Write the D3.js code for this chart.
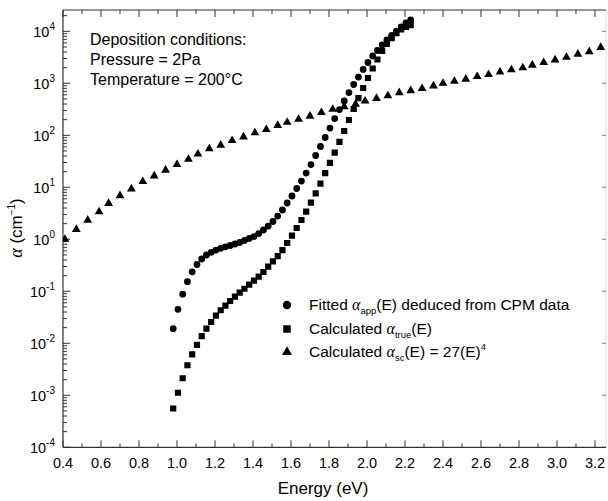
<!DOCTYPE html>
<html>
<head>
<meta charset="utf-8">
<script src="https://cdn.jsdelivr.net/npm/d3@7"></script>
<style>
  html, body { margin: 0; padding: 0; background: #fff; }
  svg { display: block; }
  text { font-family: "Liberation Sans", Arial, sans-serif; fill: #000; }
  .greek { font-family: "Liberation Serif", "Times New Roman", serif; font-style: italic; }
</style>
</head>
<body>
<svg id="chart" width="608" height="501"></svg>
<script>
// Photon energy (eV) for the fitted CPM curve and the calculated true absorption
const energyCPM = [0.98, 1.005, 1.03, 1.055, 1.08, 1.105, 1.13, 1.155, 1.18, 1.205,
  1.23, 1.255, 1.28, 1.305, 1.33, 1.355, 1.38, 1.405, 1.43, 1.455,
  1.48, 1.505, 1.53, 1.555, 1.58, 1.605, 1.63, 1.655, 1.68, 1.705,
  1.73, 1.755, 1.78, 1.805, 1.83, 1.855, 1.88, 1.905, 1.93, 1.955,
  1.98, 2.005, 2.03, 2.055, 2.08, 2.105, 2.13, 2.155, 2.18, 2.205, 2.23];

// Fitted apparent absorption coefficient alpha_app (cm^-1)
const alphaApp = [0.0191, 0.0451, 0.0879, 0.153, 0.237, 0.328, 0.418, 0.499, 0.562, 0.622,
  0.671, 0.718, 0.761, 0.813, 0.869, 0.949, 1.04, 1.13, 1.29, 1.51,
  1.80, 2.20, 2.80, 3.66, 4.99, 6.81, 9.49, 13.2, 18.8, 27.4,
  40.9, 60.9, 90.8, 138, 210, 313, 457, 665, 948, 1321,
  1849, 2514, 3350, 4276, 5456, 6808, 8305, 10130, 12100, 14450, 16500];

// Calculated true absorption coefficient alpha_true (cm^-1)
const alphaTrue = [0.000557, 0.00112, 0.00213, 0.00378, 0.00615, 0.00936, 0.0138, 0.0192, 0.0257, 0.0340,
  0.0432, 0.0529, 0.0651, 0.0788, 0.0940, 0.112, 0.134, 0.160, 0.191, 0.235,
  0.297, 0.377, 0.477, 0.622, 0.849, 1.18, 1.65, 2.35, 3.40, 5.06,
  7.67, 11.8, 18.7, 29.4, 46.5, 74.7, 121, 197, 321, 518,
  813, 1265, 1928, 2871, 4180, 5700, 7430, 9270, 10840, 12100, 13200];

// Photon energy (eV) and calculated scattering term alpha_sc (cm^-1)
const energySc = [0.41, 0.47, 0.53, 0.59, 0.64, 0.70, 0.76, 0.82, 0.88, 0.94,
  1.00, 1.06, 1.11, 1.17, 1.23, 1.29, 1.35, 1.41, 1.47, 1.53,
  1.58, 1.64, 1.70, 1.76, 1.82, 1.88, 1.94, 1.99, 2.05, 2.11,
  2.17, 2.23, 2.29, 2.35, 2.40, 2.46, 2.52, 2.58, 2.64, 2.70,
  2.76, 2.82, 2.87, 2.93, 2.99, 3.05, 3.11, 3.17, 3.23];
const alphaSc = [1.00, 1.55, 2.34, 3.39, 4.90, 6.92, 9.33, 12.9, 16.6, 21.4,
  27.5, 34.7, 43.7, 55.0, 64.6, 79.4, 93.3, 112, 129, 155,
  178, 204, 234, 275, 316, 355, 398, 457, 513, 575,
  661, 724, 794, 891, 1000, 1096, 1202, 1349, 1479, 1660,
  1820, 1995, 2239, 2512, 2818, 3162, 3631, 4074, 4898];

// Axis ticks
const xMajorTicks = [0.4, 0.6, 0.8, 1.0, 1.2, 1.4, 1.6, 1.8, 2.0, 2.2, 2.4, 2.6, 2.8, 3.0, 3.2];
const xMinorTicks = [0.5, 0.7, 0.9, 1.1, 1.3, 1.5, 1.7, 1.9, 2.1, 2.3, 2.5, 2.7, 2.9, 3.1];
const yDecades = [-4, -3, -2, -1, 0, 1, 2, 3, 4];

const conditions = ["Deposition conditions:", "Pressure = 2Pa", "Temperature = 200°C"];

const svg = d3.select("#chart");
const plotLeft = 63, plotRight = 606, plotTop = 10, plotBottom = 447.3;

const x = d3.scaleLinear().domain([0.4, 3.258]).range([plotLeft, plotRight]);
const y = d3.scaleLog().domain([1e-4, Math.pow(10, 4.41)]).range([plotBottom, plotTop]);

const axisColor = "#333";

// Minor log ticks (2..9 within each decade)
const yMinor = [];
yDecades.forEach(k => {
  for (let m = 2; m <= 9; m++) {
    const v = m * Math.pow(10, k);
    if (v < y.domain()[1]) yMinor.push(v);
  }
});

// Left axis
const gLeft = svg.append("g");
gLeft.selectAll("line.maj").data(yDecades).join("line")
  .attr("x1", plotLeft).attr("x2", plotLeft + 7)
  .attr("y1", d => y(Math.pow(10, d))).attr("y2", d => y(Math.pow(10, d)))
  .attr("stroke", axisColor).attr("stroke-width", 1);
gLeft.selectAll("line.min").data(yMinor).join("line")
  .attr("x1", plotLeft).attr("x2", plotLeft + 4)
  .attr("y1", d => y(d)).attr("y2", d => y(d))
  .attr("stroke", axisColor).attr("stroke-width", 1);

const yLabels = gLeft.selectAll("text.yl").data(yDecades).join("text")
  .attr("text-anchor", "end")
  .attr("x", 55).attr("y", d => y(Math.pow(10, d)) + 6)
  .style("font-size", "14.5px");
yLabels.append("tspan").text("10");
yLabels.append("tspan").attr("dy", -7).style("font-size", "10px").text(d => d < 0 ? "-" + (-d) : String(d));

// Right axis (lighter)
svg.append("line").attr("x1", plotRight).attr("x2", plotRight).attr("y1", plotTop).attr("y2", plotBottom)
  .attr("stroke", "#bbb").attr("stroke-width", 1).attr("stroke-dasharray", "1,1");
svg.selectAll("line.rmaj").data(yDecades).join("line")
  .attr("x1", plotRight - 4).attr("x2", plotRight)
  .attr("y1", d => y(Math.pow(10, d))).attr("y2", d => y(Math.pow(10, d)))
  .attr("stroke", "#888").attr("stroke-width", 1);

// Bottom axis
const gBottom = svg.append("g");
gBottom.selectAll("line.maj").data(xMajorTicks).join("line")
  .attr("x1", d => x(d)).attr("x2", d => x(d))
  .attr("y1", plotBottom).attr("y2", plotBottom - 7)
  .attr("stroke", axisColor);
gBottom.selectAll("line.min").data(xMinorTicks).join("line")
  .attr("x1", d => x(d)).attr("x2", d => x(d))
  .attr("y1", plotBottom).attr("y2", plotBottom - 4)
  .attr("stroke", axisColor);
gBottom.selectAll("text").data(xMajorTicks).join("text")
  .attr("x", d => x(d)).attr("y", 468)
  .attr("text-anchor", "middle").style("font-size", "14.5px")
  .text(d => d.toFixed(1));

// Top axis
const gTop = svg.append("g");
gTop.selectAll("line.maj").data(xMajorTicks).join("line")
  .attr("x1", d => x(d)).attr("x2", d => x(d))
  .attr("y1", plotTop).attr("y2", plotTop + 7)
  .attr("stroke", axisColor);
gTop.selectAll("line.min").data(xMinorTicks).join("line")
  .attr("x1", d => x(d)).attr("x2", d => x(d))
  .attr("y1", plotTop).attr("y2", plotTop + 4)
  .attr("stroke", axisColor);

// Frame lines
svg.append("line").attr("x1", plotLeft).attr("x2", plotRight).attr("y1", plotTop).attr("y2", plotTop)
  .attr("stroke", axisColor).attr("stroke-width", 1.2);
svg.append("line").attr("x1", plotLeft).attr("x2", plotRight).attr("y1", plotBottom).attr("y2", plotBottom)
  .attr("stroke", axisColor).attr("stroke-width", 1.2);
svg.append("line").attr("x1", plotLeft).attr("x2", plotLeft).attr("y1", plotTop).attr("y2", plotBottom)
  .attr("stroke", axisColor).attr("stroke-width", 1.2);

// Axis titles
svg.append("text").attr("x", 323).attr("y", 494).attr("text-anchor", "middle")
  .style("font-size", "17px").text("Energy (eV)");

const yTitle = svg.append("text")
  .attr("transform", "translate(22,228) rotate(-90)")
  .attr("text-anchor", "middle").style("font-size", "17px");
yTitle.append("tspan").attr("class", "greek").style("font-size", "18px").text("α");
yTitle.append("tspan").text(" (cm");
yTitle.append("tspan").attr("dy", -7).style("font-size", "10px").text("−1");
yTitle.append("tspan").attr("dy", 7).text(")");

// Clip data to the plotting area
svg.append("clipPath").attr("id", "plot-clip").append("rect")
  .attr("x", plotLeft).attr("y", plotTop).attr("width", plotRight - plotLeft).attr("height", plotBottom - plotTop);
const gData = svg.append("g").attr("clip-path", "url(#plot-clip)");

const circleSym = d3.symbol().type(d3.symbolCircle).size(Math.PI * 3.4 * 3.4);
const squareSym = d3.symbol().type(d3.symbolSquare).size(6.2 * 6.2);
const triSym = d3.symbol().type(d3.symbolTriangle).size(8.8 * 8.8 * Math.sqrt(3) / 4);

gData.selectAll("path.sc").data(energySc.map((e, i) => [e, alphaSc[i]])).join("path")
  .attr("d", triSym).attr("fill", "#000")
  .attr("transform", d => `translate(${x(d[0])},${y(d[1])})`);
gData.selectAll("path.tr").data(energyCPM.map((e, i) => [e, alphaTrue[i]])).join("path")
  .attr("d", squareSym).attr("fill", "#000")
  .attr("transform", d => `translate(${x(d[0])},${y(d[1])})`);
gData.selectAll("path.app").data(energyCPM.map((e, i) => [e, alphaApp[i]])).join("path")
  .attr("d", circleSym).attr("fill", "#000")
  .attr("transform", d => `translate(${x(d[0])},${y(d[1])})`);

// Deposition conditions text block
svg.selectAll("text.cond").data(conditions).join("text")
  .attr("x", 90).attr("y", (d, i) => 45 + i * 20)
  .style("font-size", "16px").text(d => d);

// Legend
const legendX = 287, legendTextX = 309;
const legendRows = [305, 329, 352];
const legend = svg.append("g");
legend.append("path").attr("d", d3.symbol().type(d3.symbolCircle).size(Math.PI * 4.2 * 4.2))
  .attr("transform", `translate(${legendX},${legendRows[0]})`);
legend.append("path").attr("d", d3.symbol().type(d3.symbolSquare).size(7.5 * 7.5))
  .attr("transform", `translate(${legendX},${legendRows[1]})`);
legend.append("path").attr("d", d3.symbol().type(d3.symbolTriangle).size(10 * 10 * Math.sqrt(3) / 4))
  .attr("transform", `translate(${legendX},${legendRows[2]})`);

function legendText(row, sub, after, sup) {
  const t = legend.append("text").attr("x", legendTextX).attr("y", legendRows[row] + 5)
    .style("font-size", "15.5px");
  t.append("tspan").text(row === 0 ? "Fitted " : "Calculated ");
  t.append("tspan").attr("class", "greek").style("font-size", "16px").text("α");
  t.append("tspan").attr("dy", 4).style("font-size", "9.5px").text(sub);
  t.append("tspan").attr("dy", -4).text(after);
  if (sup) t.append("tspan").attr("dy", -7).style("font-size", "9.5px").text(sup);
}
legendText(0, "app", "(E) deduced from CPM data");
legendText(1, "true", "(E)");
legendText(2, "sc", "(E) = 27(E)", "4");
</script>
</body>
</html>
